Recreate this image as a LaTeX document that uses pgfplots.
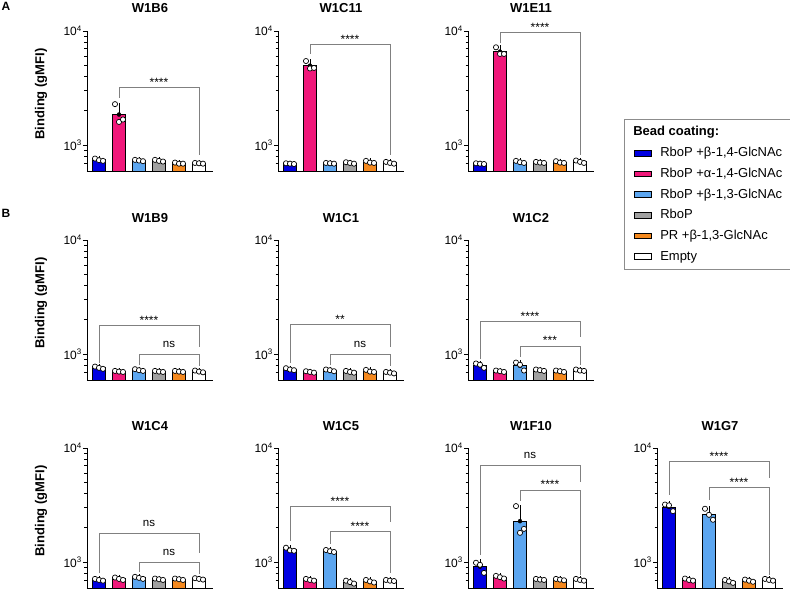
\documentclass[border=0pt]{standalone}
\usepackage{pgfplots}
\pgfplotsset{compat=1.18}
\usepackage{pgfplotstable}
\usepackage{fontspec}
\setmainfont{Liberation Sans}

% bead coatings
\definecolor{c0}{RGB}{0,0,225}     % RboP +beta-1,4-GlcNAc
\definecolor{c1}{RGB}{240,24,122}  % RboP +alpha-1,4-GlcNAc
\definecolor{c2}{RGB}{92,166,240}  % RboP +beta-1,3-GlcNAc
\definecolor{c3}{RGB}{160,160,160} % RboP
\definecolor{c4}{RGB}{245,137,30}  % PR +beta-1,3-GlcNAc
\definecolor{c5}{RGB}{255,255,255} % Empty

% columns: x, mean, SD, three replicates
\pgfplotstableread{
x m e a b c
0 745 20 765 740 730
1 1857 376 2290 1600 1680
2 735 12 745 735 725
3 732 12 745 730 720
4 695 9 705 690 690
5 695 5 700 695 690
}\tBsix
\pgfplotstableread{
x m e a b c
0 690 5 695 690 685
1 4970 420 5460 4700 4750
2 695 5 700 695 690
3 700 10 710 700 690
4 712 16 730 705 700
5 702 12 715 700 690
}\tCeleven
\pgfplotstableread{
x m e a b c
0 690 5 695 690 685
1 6600 520 7200 6300 6300
2 713 15 730 710 700
3 707 8 715 705 700
4 710 13 725 705 700
5 717 17 735 715 700
}\tEeleven
\pgfplotstableread{
x m e a b c
0 762 18 780 760 745
1 707 8 715 705 700
2 727 12 740 725 715
3 707 8 715 705 700
4 707 8 715 705 700
5 707 12 720 705 695
}\tBnine
\pgfplotstableread{
x m e a b c
0 738 15 755 735 725
1 700 10 710 700 690
2 723 12 735 725 710
3 702 12 715 700 690
4 712 16 730 705 700
5 690 10 700 690 680
}\tCone
\pgfplotstableread{
x m e a b c
0 800 30 830 810 760
1 710 10 720 710 700
2 792 55 845 810 720
3 725 10 735 725 715
4 710 10 720 710 700
5 723 10 735 720 715
}\tCtwo
\pgfplotstableread{
x m e a b c
0 702 12 715 700 690
1 717 17 735 715 700
2 730 15 745 730 715
3 710 10 720 710 700
4 710 10 720 710 700
5 715 10 725 715 705
}\tCfour
\pgfplotstableread{
x m e a b c
0 1290 45 1340 1270 1260
1 702 12 715 700 690
2 1253 25 1280 1250 1230
3 670 20 690 670 650
4 682 17 700 680 665
5 692 8 700 690 685
}\tCfive
\pgfplotstableread{
x m e a b c
0 916 95 990 950 807
1 740 20 760 740 720
2 2290 710 3100 1810 1960
3 707 8 715 705 700
4 705 10 715 705 695
5 702 12 715 700 690
}\tFten
\pgfplotstableread{
x m e a b c
0 3050 220 3200 3150 2800
1 703 15 720 700 690
2 2630 290 2940 2600 2355
3 680 20 700 680 660
4 690 15 705 690 675
5 702 12 715 700 690
}\tGseven

% common look of every clone panel
\pgfplotsset{
  every axis/.append style={
    scale only axis, width=126pt, height=140pt,
    ymode=log, ymin=595, ymax=10000, xmin=-0.6, xmax=5.7,
    log origin=infty,
    axis x line*=bottom, axis y line*=left,
    axis line style={black, line width=0.9pt, -},
    xtick=\empty,
    ytick={1000,10000}, yticklabels={10\textsuperscript{3},10\textsuperscript{4}},
    minor ytick={700,800,900,2000,3000,4000,5000,6000,7000,8000,9000},
    tick align=outside, major tick length=4pt, minor tick length=2.5pt,
    tick style={black, line width=0.8pt},
    yticklabel style={font=\fontsize{12}{13}\selectfont, inner sep=1pt},
    title style={at={(axis description cs:0.5,1)}, anchor=base, yshift=12pt,
      font=\bfseries\fontsize{13}{15}\selectfont},
    ylabel style={at={(axis description cs:-0.365,0.55)}, anchor=center,
      font=\bfseries\fontsize{13}{15}\selectfont},
    clip=false,
  },
}
\tikzset{
  repdot/.style={mark=*, mark size=2.6pt,
    mark options={fill=white, draw=black, line width=0.7pt}},
  sigbrk/.style={black!50, line width=0.8pt},
  sigstar/.style={anchor=base, yshift=1pt, inner sep=0pt, font=\fontsize{12}{12}\selectfont},
  signs/.style={anchor=base, yshift=7pt, inner sep=0pt, font=\fontsize{11.5}{12}\selectfont},
}

% bars, SD whiskers and replicate dots of one clone
\newcommand\drawpanel[1]{%
  \pgfplotsinvokeforeach{0,...,5}{%
    \addplot[ybar, bar shift=0pt, bar width=0.67, draw=black, line width=0.8pt,
      fill=c##1, area legend, restrict x to domain=##1:##1]
      table[x=x, y=m] {#1};
  }%
  \addplot[only marks, mark=none, forget plot,
    error bars/.cd, y dir=plus, y explicit,
    error bar style={black, line width=0.8pt},
    error mark options={black, mark size=2.6pt, line width=0.8pt}]
    table[x=x, y=m, y error=e] {#1};
  \addplot[only marks, repdot, forget plot] table[x expr=\thisrow{x}-0.2, y=a] {#1};
  \addplot[only marks, repdot, forget plot] table[x=x, y=b] {#1};
  \addplot[only marks, repdot, forget plot] table[x expr=\thisrow{x}+0.2, y=c] {#1};
}

% significance bracket: from, to, middle, left foot, top, right foot, style, text
\newcommand\bracket[8]{%
  \addplot[sigbrk, mark=none, forget plot] coordinates {(#1,#4) (#1,#5) (#2,#5) (#2,#6)};
  \node[#7] at (axis cs:#3,#5) {#8};
}

\begin{document}
\begin{tikzpicture}
\path[use as bounding box] (0,0) rectangle (790pt,-589pt);

\node[anchor=base west, inner sep=0pt, font=\bfseries\fontsize{12}{14}\selectfont]
  at (1.5pt,-10.7pt) {A};
\node[anchor=base west, inner sep=0pt, font=\bfseries\fontsize{12}{14}\selectfont]
  at (1.5pt,-217pt) {B};

% ---- row A ----
\begin{axis}[at={(87pt,-171pt)}, anchor=south west,
  title={W1B6}, ylabel={Binding (gMFI)}]
  \drawpanel{\tBsix}
  \bracket{1}{5}{3}{2600}{3180}{817}{sigstar}{****}
\end{axis}

\begin{axis}[at={(278pt,-171pt)}, anchor=south west, title={W1C11}]
  \drawpanel{\tCeleven}
  \bracket{1}{5}{3}{6300}{7640}{817}{sigstar}{****}
\end{axis}

\begin{axis}[at={(468pt,-171pt)}, anchor=south west, title={W1E11},
  legend cell align=left,
  legend style={at={(axis description cs:1.238,0.371)}, anchor=north west,
    draw=black!45, line width=0.8pt, fill=white,
    font=\fontsize{13}{15}\selectfont,
    inner xsep=10pt, inner ysep=7pt, row sep=8.7pt, column sep=8pt,
    nodes={inner sep=0pt, text height=9.5pt, text depth=2.5pt}},
  legend entries={{\hspace*{-27pt}\textbf{Bead coating:}},
    {RboP +β-1,4-GlcNAc}, {RboP +α-1,4-GlcNAc}, {RboP +β-1,3-GlcNAc},
    {RboP}, {PR +β-1,3-GlcNAc}, {Empty}}]
  \addlegendimage{empty legend}
  \drawpanel{\tEeleven}
  \bracket{1}{5}{3}{7800}{9750}{817}{sigstar}{****}
\end{axis}

% ---- row B, first line ----
\begin{axis}[at={(87pt,-380pt)}, anchor=south west,
  title={W1B9}, ylabel={Binding (gMFI)}]
  \drawpanel{\tBnine}
  \bracket{0}{5}{2.5}{830}{1800}{1150}{sigstar}{****}
  \bracket{2}{5}{3.5}{800}{1000}{790}{signs}{ns}
\end{axis}

\begin{axis}[at={(278pt,-380pt)}, anchor=south west, title={W1C1}]
  \drawpanel{\tCone}
  \bracket{0}{5}{2.5}{845}{1830}{1150}{sigstar}{**}
  \bracket{2}{5}{3.5}{800}{1000}{790}{signs}{ns}
\end{axis}

\begin{axis}[at={(468pt,-380pt)}, anchor=south west, title={W1C2}]
  \drawpanel{\tCtwo}
  \bracket{0}{5}{2.5}{900}{1920}{1410}{sigstar}{****}
  \bracket{2}{5}{3.5}{950}{1182}{800}{sigstar}{***}
\end{axis}

% ---- row B, second line ----
\begin{axis}[at={(87pt,-588pt)}, anchor=south west,
  title={W1C4}, ylabel={Binding (gMFI)}]
  \drawpanel{\tCfour}
  \bracket{0}{5}{2.5}{800}{1800}{1200}{signs}{ns}
  \bracket{2}{5}{3.5}{820}{1000}{790}{signs}{ns}
\end{axis}

\begin{axis}[at={(278pt,-588pt)}, anchor=south west, title={W1C5}]
  \drawpanel{\tCfive}
  \bracket{0}{5}{2.5}{1550}{3100}{2240}{sigstar}{****}
  \bracket{2}{5}{3.5}{1450}{1870}{800}{sigstar}{****}
\end{axis}

\begin{axis}[at={(468pt,-588pt)}, anchor=south west, title={W1F10}]
  \drawpanel{\tFten}
  \bracket{0}{5}{2.5}{1150}{7050}{5070}{signs}{ns}
  \bracket{2}{5}{3.5}{3450}{4290}{780}{sigstar}{****}
\end{axis}

\begin{axis}[at={(657pt,-588pt)}, anchor=south west, title={W1G7}]
  \drawpanel{\tGseven}
  \bracket{0}{5}{2.5}{3900}{7690}{5500}{sigstar}{****}
  \bracket{2}{5}{3.5}{3500}{4550}{770}{sigstar}{****}
\end{axis}
\end{tikzpicture}
\end{document}
